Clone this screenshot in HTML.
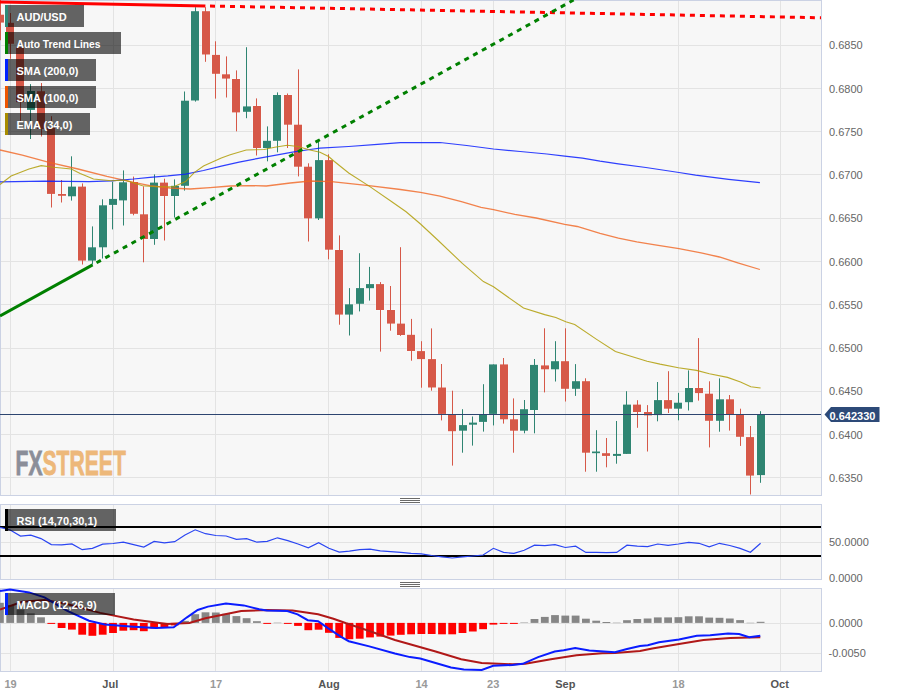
<!DOCTYPE html><html><head><meta charset="utf-8"><title>AUD/USD chart</title><style>html,body{margin:0;padding:0;background:#fff;overflow:hidden}svg{display:block}text{font-family:"Liberation Sans",Arial,sans-serif}</style></head><body>
<svg width="898" height="697" viewBox="0 0 898 697">
<rect width="898" height="697" fill="#fff"/>
<rect x="0" y="0" width="822" height="496" fill="#f7f7f7"/>
<rect x="0" y="504" width="822" height="76" fill="#f7f7f7"/>
<rect x="0" y="588" width="822" height="84" fill="#f7f7f7"/>
<rect x="10" y="0" width="1" height="495" fill="#e3e3e3"/>
<rect x="113" y="0" width="1" height="495" fill="#e3e3e3"/>
<rect x="215" y="0" width="1" height="495" fill="#e3e3e3"/>
<rect x="328" y="0" width="1" height="495" fill="#e3e3e3"/>
<rect x="421" y="0" width="1" height="495" fill="#e3e3e3"/>
<rect x="493" y="0" width="1" height="495" fill="#e3e3e3"/>
<rect x="565" y="0" width="1" height="495" fill="#e3e3e3"/>
<rect x="678" y="0" width="1" height="495" fill="#e3e3e3"/>
<rect x="780" y="0" width="1" height="495" fill="#e3e3e3"/>
<rect x="10" y="504" width="1" height="75" fill="#e3e3e3"/>
<rect x="113" y="504" width="1" height="75" fill="#e3e3e3"/>
<rect x="215" y="504" width="1" height="75" fill="#e3e3e3"/>
<rect x="328" y="504" width="1" height="75" fill="#e3e3e3"/>
<rect x="421" y="504" width="1" height="75" fill="#e3e3e3"/>
<rect x="493" y="504" width="1" height="75" fill="#e3e3e3"/>
<rect x="565" y="504" width="1" height="75" fill="#e3e3e3"/>
<rect x="678" y="504" width="1" height="75" fill="#e3e3e3"/>
<rect x="780" y="504" width="1" height="75" fill="#e3e3e3"/>
<rect x="10" y="588" width="1" height="83" fill="#e3e3e3"/>
<rect x="113" y="588" width="1" height="83" fill="#e3e3e3"/>
<rect x="215" y="588" width="1" height="83" fill="#e3e3e3"/>
<rect x="328" y="588" width="1" height="83" fill="#e3e3e3"/>
<rect x="421" y="588" width="1" height="83" fill="#e3e3e3"/>
<rect x="493" y="588" width="1" height="83" fill="#e3e3e3"/>
<rect x="565" y="588" width="1" height="83" fill="#e3e3e3"/>
<rect x="678" y="588" width="1" height="83" fill="#e3e3e3"/>
<rect x="780" y="588" width="1" height="83" fill="#e3e3e3"/>
<rect x="0" y="45" width="821" height="1" fill="#e3e3e3"/>
<rect x="0" y="88" width="821" height="1" fill="#e3e3e3"/>
<rect x="0" y="131" width="821" height="1" fill="#e3e3e3"/>
<rect x="0" y="174" width="821" height="1" fill="#e3e3e3"/>
<rect x="0" y="218" width="821" height="1" fill="#e3e3e3"/>
<rect x="0" y="261" width="821" height="1" fill="#e3e3e3"/>
<rect x="0" y="304" width="821" height="1" fill="#e3e3e3"/>
<rect x="0" y="348" width="821" height="1" fill="#e3e3e3"/>
<rect x="0" y="391" width="821" height="1" fill="#e3e3e3"/>
<rect x="0" y="434" width="821" height="1" fill="#e3e3e3"/>
<rect x="0" y="477" width="821" height="1" fill="#e3e3e3"/>
<rect x="0" y="542" width="821" height="1" fill="#e3e3e3"/>
<rect x="0" y="623" width="821" height="1" fill="#e3e3e3"/>
<rect x="0" y="653" width="821" height="1" fill="#e3e3e3"/>
<rect x="0.5" y="0.5" width="821" height="495" fill="none" stroke="#cbd2e4" stroke-width="1"/>
<rect x="0.5" y="504.5" width="821" height="75" fill="none" stroke="#cbd2e4" stroke-width="1"/>
<rect x="0.5" y="588.5" width="821" height="83" fill="none" stroke="#cbd2e4" stroke-width="1"/>
<text x="15.6" y="475.2" font-size="36" font-weight="bold" transform="translate(15.6 475.2) scale(0.586 1) translate(-15.6 -475.2)" stroke-width="0.9"><tspan fill="#8b8e99" stroke="#8b8e99">FX</tspan><tspan fill="#edb87a" stroke="#edb87a">STREET</tspan></text>
<rect x="-4.5" y="14.2" width="9" height="8.9" fill="#fff" opacity="0.6"/>
<rect x="0" y="0.0" width="1" height="40.2" fill="#d65848"/>
<rect x="-4" y="14.7" width="8" height="7.9" fill="#d65848"/>
<rect x="5.5" y="22.3" width="9" height="22.0" fill="#fff" opacity="0.6"/>
<rect x="10" y="13.0" width="1" height="45.8" fill="#d65848"/>
<rect x="6" y="22.8" width="8" height="21.0" fill="#d65848"/>
<rect x="15.5" y="46.8" width="9" height="55.9" fill="#fff" opacity="0.6"/>
<rect x="20" y="47.3" width="1" height="73.5" fill="#d65848"/>
<rect x="16" y="47.3" width="8" height="54.9" fill="#d65848"/>
<rect x="26.5" y="90.5" width="9" height="19.9" fill="#fff" opacity="0.6"/>
<rect x="30" y="84.1" width="1" height="54.9" fill="#2f8572"/>
<rect x="27" y="91.0" width="8" height="18.9" fill="#2f8572"/>
<rect x="36.5" y="90.7" width="9" height="38.8" fill="#fff" opacity="0.6"/>
<rect x="41" y="83.0" width="1" height="53.5" fill="#d65848"/>
<rect x="37" y="91.2" width="8" height="37.8" fill="#d65848"/>
<rect x="46.5" y="127.0" width="9" height="67.4" fill="#fff" opacity="0.6"/>
<rect x="51" y="116.2" width="1" height="91.3" fill="#d65848"/>
<rect x="47" y="127.5" width="8" height="66.4" fill="#d65848"/>
<rect x="57.5" y="193.5" width="9" height="2.8" fill="#fff" opacity="0.6"/>
<rect x="61" y="180.0" width="1" height="22.5" fill="#d65848"/>
<rect x="58" y="194.0" width="8" height="1.8" fill="#d65848"/>
<rect x="67.5" y="186.1" width="9" height="10.7" fill="#fff" opacity="0.6"/>
<rect x="71" y="156.3" width="1" height="44.3" fill="#2f8572"/>
<rect x="68" y="186.6" width="8" height="9.7" fill="#2f8572"/>
<rect x="77.5" y="186.1" width="9" height="75.0" fill="#fff" opacity="0.6"/>
<rect x="82" y="183.4" width="1" height="81.1" fill="#d65848"/>
<rect x="78" y="186.6" width="8" height="74.0" fill="#d65848"/>
<rect x="87.5" y="246.8" width="9" height="14.3" fill="#fff" opacity="0.6"/>
<rect x="92" y="226.4" width="1" height="38.1" fill="#2f8572"/>
<rect x="88" y="247.3" width="8" height="13.3" fill="#2f8572"/>
<rect x="98.5" y="204.8" width="9" height="43.0" fill="#fff" opacity="0.6"/>
<rect x="102" y="199.3" width="1" height="59.2" fill="#2f8572"/>
<rect x="99" y="205.3" width="8" height="42.0" fill="#2f8572"/>
<rect x="108.5" y="198.4" width="9" height="7.0" fill="#fff" opacity="0.6"/>
<rect x="112" y="181.7" width="1" height="47.7" fill="#2f8572"/>
<rect x="109" y="198.9" width="8" height="6.0" fill="#2f8572"/>
<rect x="118.5" y="181.8" width="9" height="19.1" fill="#fff" opacity="0.6"/>
<rect x="123" y="170.4" width="1" height="55.1" fill="#2f8572"/>
<rect x="119" y="182.3" width="8" height="18.1" fill="#2f8572"/>
<rect x="129.5" y="181.5" width="9" height="32.8" fill="#fff" opacity="0.6"/>
<rect x="133" y="176.6" width="1" height="38.7" fill="#d65848"/>
<rect x="130" y="182.0" width="8" height="31.8" fill="#d65848"/>
<rect x="139.5" y="213.8" width="9" height="25.7" fill="#fff" opacity="0.6"/>
<rect x="143" y="186.3" width="1" height="76.0" fill="#d65848"/>
<rect x="140" y="214.3" width="8" height="24.7" fill="#d65848"/>
<rect x="149.5" y="182.1" width="9" height="57.4" fill="#fff" opacity="0.6"/>
<rect x="154" y="174.4" width="1" height="70.4" fill="#2f8572"/>
<rect x="150" y="182.6" width="8" height="56.4" fill="#2f8572"/>
<rect x="159.5" y="182.1" width="9" height="14.4" fill="#fff" opacity="0.6"/>
<rect x="164" y="178.7" width="1" height="61.8" fill="#d65848"/>
<rect x="160" y="182.6" width="8" height="13.4" fill="#d65848"/>
<rect x="170.5" y="185.3" width="9" height="11.2" fill="#fff" opacity="0.6"/>
<rect x="174" y="179.4" width="1" height="38.1" fill="#2f8572"/>
<rect x="171" y="185.8" width="8" height="10.2" fill="#2f8572"/>
<rect x="180.5" y="100.2" width="9" height="86.1" fill="#fff" opacity="0.6"/>
<rect x="184" y="91.5" width="1" height="99.1" fill="#2f8572"/>
<rect x="181" y="100.7" width="8" height="85.1" fill="#2f8572"/>
<rect x="190.5" y="10.7" width="9" height="90.3" fill="#fff" opacity="0.6"/>
<rect x="195" y="7.2" width="1" height="94.4" fill="#2f8572"/>
<rect x="191" y="11.2" width="8" height="89.3" fill="#2f8572"/>
<rect x="201.5" y="10.7" width="9" height="44.3" fill="#fff" opacity="0.6"/>
<rect x="205" y="7.2" width="1" height="54.6" fill="#d65848"/>
<rect x="202" y="11.2" width="8" height="43.3" fill="#d65848"/>
<rect x="211.5" y="54.4" width="9" height="19.9" fill="#fff" opacity="0.6"/>
<rect x="215" y="41.3" width="1" height="57.3" fill="#d65848"/>
<rect x="212" y="54.9" width="8" height="18.9" fill="#d65848"/>
<rect x="221.5" y="73.8" width="9" height="5.3" fill="#fff" opacity="0.6"/>
<rect x="226" y="56.4" width="1" height="41.1" fill="#d65848"/>
<rect x="222" y="74.3" width="8" height="4.3" fill="#d65848"/>
<rect x="231.5" y="78.5" width="9" height="34.4" fill="#fff" opacity="0.6"/>
<rect x="236" y="70.4" width="1" height="60.9" fill="#d65848"/>
<rect x="232" y="79.0" width="8" height="33.4" fill="#d65848"/>
<rect x="242.5" y="105.9" width="9" height="6.4" fill="#fff" opacity="0.6"/>
<rect x="246" y="47.2" width="1" height="71.0" fill="#2f8572"/>
<rect x="243" y="106.4" width="8" height="5.4" fill="#2f8572"/>
<rect x="252.5" y="105.5" width="9" height="43.0" fill="#fff" opacity="0.6"/>
<rect x="256" y="98.4" width="1" height="57.1" fill="#d65848"/>
<rect x="253" y="106.0" width="8" height="42.0" fill="#d65848"/>
<rect x="262.5" y="140.3" width="9" height="8.2" fill="#fff" opacity="0.6"/>
<rect x="267" y="126.4" width="1" height="34.9" fill="#2f8572"/>
<rect x="263" y="140.8" width="8" height="7.2" fill="#2f8572"/>
<rect x="272.5" y="94.5" width="9" height="46.8" fill="#fff" opacity="0.6"/>
<rect x="277" y="92.4" width="1" height="59.9" fill="#2f8572"/>
<rect x="273" y="95.0" width="8" height="45.8" fill="#2f8572"/>
<rect x="283.5" y="94.5" width="9" height="30.7" fill="#fff" opacity="0.6"/>
<rect x="287" y="93.5" width="1" height="54.5" fill="#d65848"/>
<rect x="284" y="95.0" width="8" height="29.7" fill="#d65848"/>
<rect x="293.5" y="124.2" width="9" height="43.0" fill="#fff" opacity="0.6"/>
<rect x="298" y="69.4" width="1" height="107.0" fill="#d65848"/>
<rect x="294" y="124.7" width="8" height="42.0" fill="#d65848"/>
<rect x="303.5" y="166.2" width="9" height="52.7" fill="#fff" opacity="0.6"/>
<rect x="308" y="163.3" width="1" height="78.2" fill="#d65848"/>
<rect x="304" y="166.7" width="8" height="51.7" fill="#d65848"/>
<rect x="314.5" y="159.6" width="9" height="59.3" fill="#fff" opacity="0.6"/>
<rect x="318" y="141.9" width="1" height="78.1" fill="#2f8572"/>
<rect x="315" y="160.1" width="8" height="58.3" fill="#2f8572"/>
<rect x="324.5" y="159.6" width="9" height="90.6" fill="#fff" opacity="0.6"/>
<rect x="328" y="154.3" width="1" height="105.0" fill="#d65848"/>
<rect x="325" y="160.1" width="8" height="89.6" fill="#d65848"/>
<rect x="334.5" y="249.5" width="9" height="65.6" fill="#fff" opacity="0.6"/>
<rect x="339" y="235.4" width="1" height="89.3" fill="#d65848"/>
<rect x="335" y="250.0" width="8" height="64.6" fill="#d65848"/>
<rect x="344.5" y="303.8" width="9" height="11.3" fill="#fff" opacity="0.6"/>
<rect x="349" y="288.1" width="1" height="47.4" fill="#2f8572"/>
<rect x="345" y="304.3" width="8" height="10.3" fill="#2f8572"/>
<rect x="355.5" y="287.6" width="9" height="16.7" fill="#fff" opacity="0.6"/>
<rect x="359" y="253.2" width="1" height="58.2" fill="#2f8572"/>
<rect x="356" y="288.1" width="8" height="15.7" fill="#2f8572"/>
<rect x="365.5" y="283.6" width="9" height="5.1" fill="#fff" opacity="0.6"/>
<rect x="369" y="266.9" width="1" height="33.7" fill="#2f8572"/>
<rect x="366" y="284.1" width="8" height="4.1" fill="#2f8572"/>
<rect x="375.5" y="283.6" width="9" height="26.9" fill="#fff" opacity="0.6"/>
<rect x="380" y="282.1" width="1" height="69.5" fill="#d65848"/>
<rect x="376" y="284.1" width="8" height="25.9" fill="#d65848"/>
<rect x="386.5" y="309.5" width="9" height="14.6" fill="#fff" opacity="0.6"/>
<rect x="390" y="286.0" width="1" height="44.7" fill="#d65848"/>
<rect x="387" y="310.0" width="8" height="13.6" fill="#d65848"/>
<rect x="396.5" y="323.1" width="9" height="12.4" fill="#fff" opacity="0.6"/>
<rect x="400" y="247.2" width="1" height="88.7" fill="#d65848"/>
<rect x="397" y="323.6" width="8" height="11.4" fill="#d65848"/>
<rect x="406.5" y="334.3" width="9" height="17.2" fill="#fff" opacity="0.6"/>
<rect x="411" y="318.9" width="1" height="41.8" fill="#d65848"/>
<rect x="407" y="334.8" width="8" height="16.2" fill="#d65848"/>
<rect x="416.5" y="350.6" width="9" height="9.0" fill="#fff" opacity="0.6"/>
<rect x="421" y="341.2" width="1" height="46.5" fill="#d65848"/>
<rect x="417" y="351.1" width="8" height="8.0" fill="#d65848"/>
<rect x="427.5" y="358.6" width="9" height="29.4" fill="#fff" opacity="0.6"/>
<rect x="431" y="328.4" width="1" height="62.3" fill="#d65848"/>
<rect x="428" y="359.1" width="8" height="28.4" fill="#d65848"/>
<rect x="437.5" y="387.0" width="9" height="27.4" fill="#fff" opacity="0.6"/>
<rect x="441" y="364.0" width="1" height="56.4" fill="#d65848"/>
<rect x="438" y="387.5" width="8" height="26.4" fill="#d65848"/>
<rect x="447.5" y="414.1" width="9" height="17.6" fill="#fff" opacity="0.6"/>
<rect x="452" y="390.7" width="1" height="74.9" fill="#d65848"/>
<rect x="448" y="414.6" width="8" height="16.6" fill="#d65848"/>
<rect x="458.5" y="424.6" width="9" height="6.6" fill="#fff" opacity="0.6"/>
<rect x="462" y="409.2" width="1" height="43.5" fill="#2f8572"/>
<rect x="459" y="425.1" width="8" height="5.6" fill="#2f8572"/>
<rect x="468.5" y="422.1" width="9" height="3.1" fill="#fff" opacity="0.6"/>
<rect x="472" y="416.5" width="1" height="29.1" fill="#2f8572"/>
<rect x="469" y="422.6" width="8" height="2.1" fill="#2f8572"/>
<rect x="478.5" y="414.1" width="9" height="8.3" fill="#fff" opacity="0.6"/>
<rect x="483" y="384.2" width="1" height="47.4" fill="#2f8572"/>
<rect x="479" y="414.6" width="8" height="7.3" fill="#2f8572"/>
<rect x="488.5" y="363.9" width="9" height="50.5" fill="#fff" opacity="0.6"/>
<rect x="493" y="364.4" width="1" height="61.0" fill="#2f8572"/>
<rect x="489" y="364.4" width="8" height="49.5" fill="#2f8572"/>
<rect x="499.5" y="363.9" width="9" height="55.9" fill="#fff" opacity="0.6"/>
<rect x="503" y="358.0" width="1" height="65.6" fill="#d65848"/>
<rect x="500" y="364.4" width="8" height="54.9" fill="#d65848"/>
<rect x="509.5" y="418.8" width="9" height="12.4" fill="#fff" opacity="0.6"/>
<rect x="513" y="398.4" width="1" height="54.3" fill="#d65848"/>
<rect x="510" y="419.3" width="8" height="11.4" fill="#d65848"/>
<rect x="519.5" y="408.7" width="9" height="22.5" fill="#fff" opacity="0.6"/>
<rect x="524" y="400.0" width="1" height="33.3" fill="#2f8572"/>
<rect x="520" y="409.2" width="8" height="21.5" fill="#2f8572"/>
<rect x="529.5" y="364.4" width="9" height="46.1" fill="#fff" opacity="0.6"/>
<rect x="534" y="359.0" width="1" height="74.3" fill="#2f8572"/>
<rect x="530" y="364.9" width="8" height="45.1" fill="#2f8572"/>
<rect x="540.5" y="364.9" width="9" height="4.9" fill="#fff" opacity="0.6"/>
<rect x="544" y="328.3" width="1" height="64.1" fill="#d65848"/>
<rect x="541" y="365.4" width="8" height="3.9" fill="#d65848"/>
<rect x="550.5" y="360.7" width="9" height="9.1" fill="#fff" opacity="0.6"/>
<rect x="555" y="341.2" width="1" height="40.3" fill="#2f8572"/>
<rect x="551" y="361.2" width="8" height="8.1" fill="#2f8572"/>
<rect x="560.5" y="360.7" width="9" height="28.6" fill="#fff" opacity="0.6"/>
<rect x="565" y="328.3" width="1" height="73.2" fill="#d65848"/>
<rect x="561" y="361.2" width="8" height="27.6" fill="#d65848"/>
<rect x="571.5" y="380.7" width="9" height="8.6" fill="#fff" opacity="0.6"/>
<rect x="575" y="364.1" width="1" height="31.8" fill="#2f8572"/>
<rect x="572" y="381.2" width="8" height="7.6" fill="#2f8572"/>
<rect x="581.5" y="380.7" width="9" height="72.5" fill="#fff" opacity="0.6"/>
<rect x="585" y="378.3" width="1" height="93.4" fill="#d65848"/>
<rect x="582" y="381.2" width="8" height="71.5" fill="#d65848"/>
<rect x="591.5" y="451.0" width="9" height="2.7" fill="#fff" opacity="0.6"/>
<rect x="596" y="430.2" width="1" height="41.5" fill="#2f8572"/>
<rect x="592" y="451.5" width="8" height="1.7" fill="#2f8572"/>
<rect x="601.5" y="452.7" width="9" height="3.7" fill="#fff" opacity="0.6"/>
<rect x="606" y="438.0" width="1" height="29.3" fill="#d65848"/>
<rect x="602" y="453.2" width="8" height="2.7" fill="#d65848"/>
<rect x="612.5" y="453.4" width="9" height="3.0" fill="#fff" opacity="0.6"/>
<rect x="616" y="421.0" width="1" height="42.7" fill="#2f8572"/>
<rect x="613" y="453.9" width="8" height="2.0" fill="#2f8572"/>
<rect x="622.5" y="404.1" width="9" height="50.3" fill="#fff" opacity="0.6"/>
<rect x="626" y="391.2" width="1" height="62.7" fill="#2f8572"/>
<rect x="623" y="404.6" width="8" height="49.3" fill="#2f8572"/>
<rect x="632.5" y="404.1" width="9" height="8.4" fill="#fff" opacity="0.6"/>
<rect x="637" y="400.2" width="1" height="27.6" fill="#d65848"/>
<rect x="633" y="404.6" width="8" height="7.4" fill="#d65848"/>
<rect x="643.5" y="411.5" width="9" height="4.4" fill="#fff" opacity="0.6"/>
<rect x="647" y="405.1" width="1" height="46.4" fill="#d65848"/>
<rect x="644" y="412.0" width="8" height="3.4" fill="#d65848"/>
<rect x="653.5" y="399.6" width="9" height="16.0" fill="#fff" opacity="0.6"/>
<rect x="657" y="382.0" width="1" height="39.3" fill="#2f8572"/>
<rect x="654" y="400.1" width="8" height="15.0" fill="#2f8572"/>
<rect x="663.5" y="399.6" width="9" height="9.6" fill="#fff" opacity="0.6"/>
<rect x="668" y="371.2" width="1" height="41.8" fill="#d65848"/>
<rect x="664" y="400.1" width="8" height="8.6" fill="#d65848"/>
<rect x="673.5" y="402.2" width="9" height="7.0" fill="#fff" opacity="0.6"/>
<rect x="678" y="392.9" width="1" height="27.4" fill="#2f8572"/>
<rect x="674" y="402.7" width="8" height="6.0" fill="#2f8572"/>
<rect x="684.5" y="387.5" width="9" height="15.2" fill="#fff" opacity="0.6"/>
<rect x="688" y="370.4" width="1" height="40.1" fill="#2f8572"/>
<rect x="685" y="388.0" width="8" height="14.2" fill="#2f8572"/>
<rect x="694.5" y="387.5" width="9" height="6.1" fill="#fff" opacity="0.6"/>
<rect x="698" y="338.1" width="1" height="62.5" fill="#d65848"/>
<rect x="695" y="388.0" width="8" height="5.1" fill="#d65848"/>
<rect x="704.5" y="393.2" width="9" height="28.1" fill="#fff" opacity="0.6"/>
<rect x="709" y="381.3" width="1" height="66.1" fill="#d65848"/>
<rect x="705" y="393.7" width="8" height="27.1" fill="#d65848"/>
<rect x="715.5" y="398.8" width="9" height="22.5" fill="#fff" opacity="0.6"/>
<rect x="719" y="378.4" width="1" height="53.3" fill="#2f8572"/>
<rect x="716" y="399.3" width="8" height="21.5" fill="#2f8572"/>
<rect x="725.5" y="398.8" width="9" height="16.0" fill="#fff" opacity="0.6"/>
<rect x="729" y="395.0" width="1" height="35.6" fill="#d65848"/>
<rect x="726" y="399.3" width="8" height="15.0" fill="#d65848"/>
<rect x="735.5" y="414.4" width="9" height="22.9" fill="#fff" opacity="0.6"/>
<rect x="740" y="408.7" width="1" height="37.2" fill="#d65848"/>
<rect x="736" y="414.9" width="8" height="21.9" fill="#d65848"/>
<rect x="745.5" y="436.6" width="9" height="39.5" fill="#fff" opacity="0.6"/>
<rect x="750" y="426.0" width="1" height="68.5" fill="#d65848"/>
<rect x="746" y="437.1" width="8" height="38.5" fill="#d65848"/>
<rect x="756.5" y="414.1" width="9" height="61.5" fill="#fff" opacity="0.6"/>
<rect x="760" y="411.2" width="1" height="71.6" fill="#2f8572"/>
<rect x="757" y="414.6" width="8" height="60.5" fill="#2f8572"/>
<polyline points="0.0,150.0 22.3,155.1 49.0,162.3 78.0,169.0 106.9,176.3 133.6,182.3 150.0,185.6 170.0,188.0 190.1,189.0 210.1,187.6 230.2,186.0 250.2,185.6 266.3,186.0 290.3,183.0 310.4,181.0 331.5,181.6 368.8,185.6 400.4,189.5 420.5,192.4 440.0,196.2 461.4,201.6 481.0,207.3 493.5,209.6 514.8,214.4 536.2,218.0 564.7,224.4 577.2,226.5 600.0,233.4 618.4,238.1 636.8,241.8 655.1,244.9 679.0,248.6 701.1,252.8 719.4,257.0 737.8,262.9 759.9,269.5" fill="none" stroke-opacity="0.8" stroke="#f06420" stroke-width="1.3"/>
<polyline points="0.0,181.9 44.5,181.2 89.0,181.6 111.4,180.8 133.6,179.0 150.0,177.3 167.8,175.9 185.6,174.1 203.5,170.5 221.3,166.1 239.1,162.1 256.9,158.6 274.7,155.4 292.5,152.2 310.0,149.5 320.0,148.2 348.7,146.5 377.4,144.3 400.4,142.6 440.0,142.5 466.7,145.5 493.5,149.0 520.2,151.5 546.9,154.0 564.7,156.2 582.5,158.1 600.0,161.1 618.4,163.8 645.9,167.5 679.0,172.5 695.6,175.2 728.6,179.3 759.9,182.7" fill="none" stroke-opacity="0.85" stroke="#0a1eff" stroke-width="1.2"/>
<polyline points="0.0,184.5 11.1,176.1 29.0,169.0 41.2,165.6 53.5,167.2 71.3,169.0 80.2,173.4 93.5,179.0 111.4,180.8 124.7,180.1 142.5,185.7 155.9,186.8 173.7,186.8 185.6,181.6 194.5,172.3 203.5,166.1 221.3,158.0 230.2,154.8 246.2,150.0 264.0,149.5 274.7,147.3 287.2,145.2 297.9,146.5 310.0,150.0 320.0,152.2 328.6,156.5 334.4,161.5 348.7,173.0 368.8,185.9 391.8,201.7 406.1,211.8 420.5,224.0 437.7,240.0 462.3,263.4 483.4,281.6 493.5,286.8 506.8,296.3 523.5,307.9 544.7,314.6 555.8,317.5 565.8,321.7 574.7,324.6 597.0,339.6 615.4,351.5 647.1,361.2 660.0,364.1 678.4,367.8 696.5,370.4 709.4,373.8 727.5,377.4 740.5,382.0 750.8,386.7 760.6,388.0" fill="none" stroke-opacity="0.85" stroke="#b09e08" stroke-width="1.1"/>
<line x1="0" y1="2.00" x2="205.4" y2="5.94" stroke="#ff0000" stroke-width="3"/>
<line x1="210" y1="6.03" x2="821" y2="17.76" stroke="#ff0000" stroke-width="3" stroke-dasharray="5,5"/>
<line x1="0" y1="315.90" x2="92.6" y2="264.91" stroke="#008000" stroke-width="3"/>
<line x1="96.5" y1="262.76" x2="573.6" y2="0.02" stroke="#008000" stroke-width="3" stroke-dasharray="5,5"/>
<rect x="0" y="414" width="821" height="1" fill="#2d4570"/>
<rect x="0" y="526" width="821" height="2" fill="#000"/>
<rect x="0" y="555" width="821" height="2" fill="#000"/>
<polyline points="0.0,527.4 10.2,530.0 20.5,536.1 30.8,535.2 41.0,538.6 51.3,544.6 61.6,544.8 71.9,543.9 82.2,549.7 92.4,548.4 102.7,544.1 113.0,543.5 123.3,542.1 133.6,544.6 143.8,547.0 154.1,541.4 164.4,542.8 174.7,541.7 185.0,535.0 195.2,529.8 205.5,533.7 215.8,535.5 226.1,536.0 236.4,539.3 246.6,538.6 256.9,542.2 267.2,541.4 277.5,537.8 287.8,540.6 298.0,544.0 308.3,547.8 318.6,542.7 328.9,548.3 339.2,552.1 349.4,551.1 359.7,549.6 370.0,549.1 380.3,550.9 390.6,551.6 400.8,552.4 411.1,553.4 421.4,553.9 431.7,555.5 442.0,556.8 452.2,558.0 462.5,556.8 472.8,556.0 483.1,555.0 493.4,548.3 503.6,552.4 513.9,553.4 524.2,550.3 534.5,545.2 544.8,545.7 555.0,544.7 565.3,547.5 575.6,546.2 585.9,552.4 596.2,552.4 606.4,552.7 616.7,552.4 627.0,545.2 637.3,546.2 647.6,546.6 657.8,544.0 668.1,545.3 678.4,544.0 688.7,542.4 699.0,543.3 709.2,546.8 719.5,543.3 729.8,545.5 740.1,548.4 750.4,552.2 760.6,543.3" fill="none" stroke="#2a45f2" stroke-width="1.2"/>
<rect x="-4.0" y="602.8" width="7.8" height="20.1" fill="#868686"/>
<rect x="6.3" y="605.0" width="7.8" height="17.9" fill="#868686"/>
<rect x="16.6" y="609.5" width="7.8" height="13.4" fill="#868686"/>
<rect x="26.9" y="613.3" width="7.8" height="9.6" fill="#868686"/>
<rect x="37.1" y="617.3" width="7.8" height="5.6" fill="#868686"/>
<rect x="47.4" y="622.9" width="7.8" height="1.0" fill="#ff0000"/>
<rect x="57.7" y="622.9" width="7.8" height="5.1" fill="#ff0000"/>
<rect x="68.0" y="622.9" width="7.8" height="6.7" fill="#ff0000"/>
<rect x="78.3" y="622.9" width="7.8" height="11.8" fill="#ff0000"/>
<rect x="88.5" y="622.9" width="7.8" height="12.9" fill="#ff0000"/>
<rect x="98.8" y="622.9" width="7.8" height="11.8" fill="#ff0000"/>
<rect x="109.1" y="622.9" width="7.8" height="10.1" fill="#ff0000"/>
<rect x="119.4" y="622.9" width="7.8" height="7.8" fill="#ff0000"/>
<rect x="129.7" y="622.9" width="7.8" height="7.3" fill="#ff0000"/>
<rect x="139.9" y="622.9" width="7.8" height="8.3" fill="#ff0000"/>
<rect x="150.2" y="622.9" width="7.8" height="5.6" fill="#ff0000"/>
<rect x="160.5" y="622.9" width="7.8" height="4.1" fill="#ff0000"/>
<rect x="170.8" y="622.9" width="7.8" height="2.5" fill="#ff0000"/>
<rect x="181.1" y="620.9" width="7.8" height="2.0" fill="#868686"/>
<rect x="191.3" y="614.2" width="7.8" height="8.7" fill="#868686"/>
<rect x="201.6" y="612.3" width="7.8" height="10.6" fill="#868686"/>
<rect x="211.9" y="612.5" width="7.8" height="10.4" fill="#868686"/>
<rect x="222.2" y="613.8" width="7.8" height="9.1" fill="#868686"/>
<rect x="232.5" y="616.1" width="7.8" height="6.8" fill="#868686"/>
<rect x="242.7" y="618.2" width="7.8" height="4.7" fill="#868686"/>
<rect x="253.0" y="621.2" width="7.8" height="1.7" fill="#868686"/>
<rect x="263.3" y="622.9" width="7.8" height="1.0" fill="#ff0000"/>
<rect x="273.6" y="622.3" width="7.8" height="1.0" fill="#c8c8c8"/>
<rect x="283.9" y="622.9" width="7.8" height="1.0" fill="#ff0000"/>
<rect x="294.1" y="622.9" width="7.8" height="3.0" fill="#ff0000"/>
<rect x="304.4" y="622.9" width="7.8" height="7.3" fill="#ff0000"/>
<rect x="314.7" y="622.9" width="7.8" height="6.8" fill="#ff0000"/>
<rect x="325.0" y="622.9" width="7.8" height="9.9" fill="#ff0000"/>
<rect x="335.3" y="622.9" width="7.8" height="15.0" fill="#ff0000"/>
<rect x="345.5" y="622.9" width="7.8" height="16.3" fill="#ff0000"/>
<rect x="355.8" y="622.9" width="7.8" height="15.8" fill="#ff0000"/>
<rect x="366.1" y="622.9" width="7.8" height="14.5" fill="#ff0000"/>
<rect x="376.4" y="622.9" width="7.8" height="13.7" fill="#ff0000"/>
<rect x="386.7" y="622.9" width="7.8" height="12.7" fill="#ff0000"/>
<rect x="396.9" y="622.9" width="7.8" height="11.9" fill="#ff0000"/>
<rect x="407.2" y="622.9" width="7.8" height="11.4" fill="#ff0000"/>
<rect x="417.5" y="622.9" width="7.8" height="11.1" fill="#ff0000"/>
<rect x="427.8" y="622.9" width="7.8" height="11.1" fill="#ff0000"/>
<rect x="438.1" y="622.9" width="7.8" height="11.4" fill="#ff0000"/>
<rect x="448.3" y="622.9" width="7.8" height="11.4" fill="#ff0000"/>
<rect x="458.6" y="622.9" width="7.8" height="10.1" fill="#ff0000"/>
<rect x="468.9" y="622.9" width="7.8" height="8.6" fill="#ff0000"/>
<rect x="479.2" y="622.9" width="7.8" height="6.3" fill="#ff0000"/>
<rect x="489.5" y="622.9" width="7.8" height="1.7" fill="#ff0000"/>
<rect x="499.7" y="622.9" width="7.8" height="1.0" fill="#ff0000"/>
<rect x="510.0" y="622.9" width="7.8" height="1.0" fill="#ff0000"/>
<rect x="520.3" y="622.0" width="7.8" height="1.0" fill="#c8c8c8"/>
<rect x="530.6" y="619.0" width="7.8" height="3.9" fill="#868686"/>
<rect x="540.9" y="616.9" width="7.8" height="6.0" fill="#868686"/>
<rect x="551.1" y="615.1" width="7.8" height="7.8" fill="#868686"/>
<rect x="561.4" y="615.6" width="7.8" height="7.3" fill="#868686"/>
<rect x="571.7" y="615.6" width="7.8" height="7.3" fill="#868686"/>
<rect x="582.0" y="618.7" width="7.8" height="4.2" fill="#868686"/>
<rect x="592.3" y="620.7" width="7.8" height="2.2" fill="#868686"/>
<rect x="602.5" y="622.0" width="7.8" height="1.0" fill="#868686"/>
<rect x="612.8" y="622.3" width="7.8" height="1.0" fill="#c8c8c8"/>
<rect x="623.1" y="620.2" width="7.8" height="2.7" fill="#868686"/>
<rect x="633.4" y="619.0" width="7.8" height="3.9" fill="#868686"/>
<rect x="643.7" y="618.5" width="7.8" height="4.4" fill="#868686"/>
<rect x="653.9" y="617.4" width="7.8" height="5.5" fill="#868686"/>
<rect x="664.2" y="617.4" width="7.8" height="5.5" fill="#868686"/>
<rect x="674.5" y="617.2" width="7.8" height="5.7" fill="#868686"/>
<rect x="684.8" y="616.3" width="7.8" height="6.6" fill="#868686"/>
<rect x="695.1" y="616.3" width="7.8" height="6.6" fill="#868686"/>
<rect x="705.3" y="617.6" width="7.8" height="5.3" fill="#868686"/>
<rect x="715.6" y="617.8" width="7.8" height="5.1" fill="#868686"/>
<rect x="725.9" y="618.5" width="7.8" height="4.4" fill="#868686"/>
<rect x="736.2" y="620.1" width="7.8" height="2.8" fill="#868686"/>
<rect x="746.5" y="622.5" width="7.8" height="1.0" fill="#c8c8c8"/>
<rect x="756.7" y="621.8" width="7.8" height="1.1" fill="#868686"/>
<polyline points="0.0,609.5 22.3,601.7 44.5,600.0 66.8,604.0 100.2,612.9 133.6,619.5 167.0,624.0 189.3,622.9 205.4,618.2 241.2,611.0 266.8,610.0 292.5,610.5 318.1,614.3 333.4,618.7 346.2,623.3 369.3,631.0 394.9,640.0 410.0,644.3 435.6,651.5 461.2,659.2 481.7,663.0 512.5,664.3 525.3,663.8 550.9,659.2 576.5,655.3 602.1,653.3 614.9,653.0 640.0,651.0 652.3,648.4 679.0,644.1 703.5,640.1 730.2,637.9 760.3,637.2" fill="none" stroke="#b01818" stroke-width="2"/>
<polyline points="0.0,591.0 10.0,589.5 29.0,592.4 44.5,597.3 66.8,610.6 89.0,620.7 104.7,624.4 133.6,626.7 155.9,628.0 173.7,627.3 187.0,617.3 197.7,610.0 207.9,606.6 225.9,603.6 243.8,605.4 259.2,609.2 266.8,610.5 287.3,611.0 297.6,614.3 307.8,620.2 318.1,621.2 328.3,628.4 341.1,636.9 348.8,641.2 369.3,646.4 394.9,653.5 410.0,657.1 420.2,658.6 435.6,663.0 451.0,667.4 463.8,669.4 481.7,669.9 493.2,665.8 512.5,665.0 522.7,663.8 538.1,657.1 554.7,651.5 563.7,650.2 575.2,647.9 589.3,650.5 614.9,652.2 627.0,649.0 640.0,646.0 647.8,645.2 659.0,642.3 679.0,639.4 696.8,635.7 710.2,635.2 728.0,633.4 739.1,634.1 749.2,637.2 760.3,635.7" fill="none" stroke="#0a1cff" stroke-width="2"/>
<rect x="400" y="498" width="20" height="1" fill="#6a6a6a"/>
<rect x="400" y="500" width="20" height="1" fill="#6a6a6a"/>
<rect x="400" y="502" width="20" height="1" fill="#6a6a6a"/>
<rect x="400" y="582" width="20" height="1" fill="#6a6a6a"/>
<rect x="400" y="584" width="20" height="1" fill="#6a6a6a"/>
<rect x="400" y="586" width="20" height="1" fill="#6a6a6a"/>
<rect x="5" y="5" width="79" height="22" fill="#000" fill-opacity="0.6"/>
<rect x="5" y="5" width="3" height="22" fill="#2e8a78"/>
<text x="16.5" y="21.4" font-size="11" font-weight="bold" fill="#fff">AUD/USD</text>
<rect x="5" y="32" width="116" height="22" fill="#000" fill-opacity="0.6"/>
<rect x="5" y="32" width="3" height="22" fill="#008000"/>
<text x="16.5" y="48.4" font-size="11" font-weight="bold" fill="#fff" textLength="84" lengthAdjust="spacingAndGlyphs">Auto Trend Lines</text>
<rect x="5" y="59" width="91" height="22" fill="#000" fill-opacity="0.6"/>
<rect x="5" y="59" width="3" height="22" fill="#0022ff"/>
<text x="16.5" y="75.4" font-size="11" font-weight="bold" fill="#fff">SMA (200,0)</text>
<rect x="5" y="86" width="91" height="22" fill="#000" fill-opacity="0.6"/>
<rect x="5" y="86" width="3" height="22" fill="#ee5500"/>
<text x="16.5" y="102.4" font-size="11" font-weight="bold" fill="#fff">SMA (100,0)</text>
<rect x="5" y="113" width="85" height="22" fill="#000" fill-opacity="0.6"/>
<rect x="5" y="113" width="3" height="22" fill="#a88c00"/>
<text x="16.5" y="129.4" font-size="11" font-weight="bold" fill="#fff">EMA (34,0)</text>
<rect x="5" y="509" width="111" height="22" fill="#000" fill-opacity="0.6"/>
<rect x="5" y="509" width="3" height="22" fill="#000"/>
<text x="16.5" y="525.4" font-size="11" font-weight="bold" fill="#fff">RSI (14,70,30,1)</text>
<rect x="5" y="593" width="110" height="22" fill="#000" fill-opacity="0.6"/>
<rect x="5" y="593" width="3" height="22" fill="#0022ff"/>
<text x="16.5" y="609.4" font-size="11" font-weight="bold" fill="#fff">MACD (12,26,9)</text>
<text x="829" y="49.2" font-size="11" fill="#666">0.6850</text>
<text x="829" y="92.5" font-size="11" fill="#666">0.6800</text>
<text x="829" y="135.7" font-size="11" fill="#666">0.6750</text>
<text x="829" y="179.0" font-size="11" fill="#666">0.6700</text>
<text x="829" y="222.3" font-size="11" fill="#666">0.6650</text>
<text x="829" y="265.6" font-size="11" fill="#666">0.6600</text>
<text x="829" y="308.8" font-size="11" fill="#666">0.6550</text>
<text x="829" y="352.1" font-size="11" fill="#666">0.6500</text>
<text x="829" y="395.4" font-size="11" fill="#666">0.6450</text>
<text x="829" y="438.6" font-size="11" fill="#666">0.6400</text>
<text x="829" y="481.9" font-size="11" fill="#666">0.6350</text>
<text x="829" y="546.2" font-size="11" fill="#666">50.0000</text>
<text x="829" y="582" font-size="11" fill="#666">0.0000</text>
<text x="829" y="627.2" font-size="11" fill="#666">0.0000</text>
<text x="828.5" y="657.1" font-size="11" fill="#666">-0.0050</text>
<path d="M824.5,414.5 L831,407 L879.5,407 L879.5,422 L831,422 Z" fill="#2d4a78"/>
<text x="829.5" y="419.8" font-size="11" font-weight="bold" fill="#fff">0.642330</text>
<text x="10.6" y="688" font-size="11" font-weight="bold" fill="#999" text-anchor="middle">19</text>
<text x="110.3" y="688" font-size="11" font-weight="bold" fill="#555" text-anchor="middle">Jul</text>
<text x="216" y="688" font-size="11" font-weight="bold" fill="#999" text-anchor="middle">17</text>
<text x="329" y="688" font-size="11" font-weight="bold" fill="#555" text-anchor="middle">Aug</text>
<text x="421.6" y="688" font-size="11" font-weight="bold" fill="#999" text-anchor="middle">14</text>
<text x="493.2" y="688" font-size="11" font-weight="bold" fill="#999" text-anchor="middle">23</text>
<text x="565.3" y="688" font-size="11" font-weight="bold" fill="#555" text-anchor="middle">Sep</text>
<text x="678.4" y="688" font-size="11" font-weight="bold" fill="#999" text-anchor="middle">18</text>
<text x="779.7" y="688" font-size="11" font-weight="bold" fill="#555" text-anchor="middle">Oct</text>
</svg></body></html>
